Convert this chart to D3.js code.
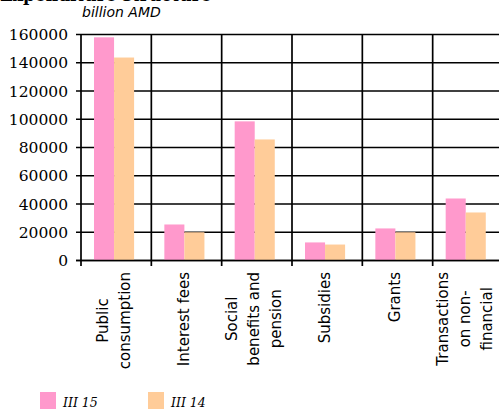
<!DOCTYPE html>
<html>
<head>
<meta charset="utf-8">
<script src="https://cdn.jsdelivr.net/npm/d3@7"></script>
<style>
  body { margin: 0; background: #fff; }
  svg { display: block; }
</style>
</head>
<body>
<svg id="chart" width="499" height="411"></svg>
<script>
const categories = [
  ["Public", "consumption"],
  ["Interest fees"],
  ["Social", "benefits and", "pension"],
  ["Subsidies"],
  ["Grants"],
  ["Transactions", "on non-", "financial"]
];
const seriesNames = ["III 15", "III 14"];
const q3_15 = [158000, 25500, 98500, 12800, 22700, 43900];
const q3_14 = [143700, 20000, 85700, 11300, 20000, 34000];
const yTicks = [0, 20000, 40000, 60000, 80000, 100000, 120000, 140000, 160000];
const colors = ["#ff99cc", "#ffcc99"];

const svg = d3.select("#chart");

const catKeys = categories.map(function (d) { return d.join(" "); });

const x = d3.scaleBand().domain(catKeys).range([81, 503]);
const bw = x.bandwidth();
const xSub = d3.scaleBand().domain(seriesNames).range([bw * 0.185, bw * 0.755]);
const y = d3.scaleLinear().domain([0, 160000]).range([260.5, 34.5]);

// title (cut off at the top, as in the picture)
svg.append("text")
  .attr("x", 0)
  .attr("y", 1)
  .style("font-family", "DejaVu Serif")
  .style("font-weight", "bold")
  .style("font-size", "17px")
  .text("Expenditure structure");

svg.append("text")
  .attr("x", 82)
  .attr("y", 17)
  .style("font-family", "DejaVu Sans")
  .style("font-style", "italic")
  .style("font-size", "14px")
  .text("billion AMD");

// horizontal grid + y ticks
svg.append("g")
  .selectAll("line")
  .data(yTicks)
  .join("line")
  .attr("x1", 76)
  .attr("x2", 503)
  .attr("y1", function (d) { return y(d); })
  .attr("y2", function (d) { return y(d); })
  .style("stroke", "#000")
  .style("stroke-width", 1.7);

svg.append("g")
  .selectAll("text")
  .data(yTicks)
  .join("text")
  .attr("x", 68)
  .attr("y", function (d) { return y(d); })
  .attr("dy", "0.36em")
  .attr("text-anchor", "end")
  .style("font-family", "DejaVu Serif")
  .style("font-size", "15.5px")
  .text(function (d) { return d; });

// vertical category lines
const bounds = catKeys.map(function (k) { return x(k); });
svg.append("g")
  .selectAll("line")
  .data(bounds)
  .join("line")
  .attr("x1", function (d) { return d; })
  .attr("x2", function (d) { return d; })
  .attr("y1", y(160000))
  .attr("y2", 266)
  .style("stroke", "#000")
  .style("stroke-width", 1.7);

// bars
const rows = catKeys.map(function (k, i) {
  return { key: k, values: [q3_15[i], q3_14[i]] };
});

const groups = svg.append("g")
  .selectAll("g")
  .data(rows)
  .join("g")
  .attr("transform", function (d) { return "translate(" + x(d.key) + ",0)"; });

groups.selectAll("rect")
  .data(function (d) {
    return d.values.map(function (v, j) { return { name: seriesNames[j], value: v, idx: j }; });
  })
  .join("rect")
  .attr("x", function (d) { return xSub(d.name); })
  .attr("width", xSub.bandwidth())
  .attr("y", function (d) { return y(d.value); })
  .attr("height", function (d) { return y(0) - y(d.value); })
  .attr("fill", function (d) { return colors[d.idx]; });

// redraw the base line over the bars
svg.append("line")
  .attr("x1", 76).attr("x2", 503)
  .attr("y1", y(0)).attr("y2", y(0))
  .style("stroke", "#000")
  .style("stroke-width", 1.7);

// rotated category labels
const lineGap = 22;
categories.forEach(function (lines, i) {
  const cx = x(catKeys[i]) + bw / 2 - 3;
  const g = svg.append("g")
    .attr("transform", "translate(" + cx + ",272) rotate(-90)");
  const texts = g.selectAll("text")
    .data(lines)
    .join("text")
    .attr("y", function (d, j) { return (j - (lines.length - 1) / 2) * lineGap; })
    .attr("dy", "0.36em")
    .attr("text-anchor", "middle")
    .style("font-family", "DejaVu Sans")
    .style("font-size", "15px")
    .text(function (d) { return d; });
  let maxLen = 0;
  texts.each(function () { maxLen = Math.max(maxLen, this.getComputedTextLength()); });
  texts.attr("x", -maxLen / 2);
});

// legend
const legend = svg.append("g")
  .selectAll("g")
  .data(seriesNames)
  .join("g")
  .attr("transform", function (d, i) { return "translate(" + (40 + i * 108) + ",392)"; });

legend.append("rect")
  .attr("width", 16)
  .attr("height", 17)
  .attr("fill", function (d, i) { return colors[i]; });

legend.append("text")
  .attr("x", 23)
  .attr("y", 15)
  .style("font-family", "DejaVu Serif")
  .style("font-style", "italic")
  .style("font-size", "12.5px")
  .text(function (d) { return d; });
</script>
</body>
</html>
